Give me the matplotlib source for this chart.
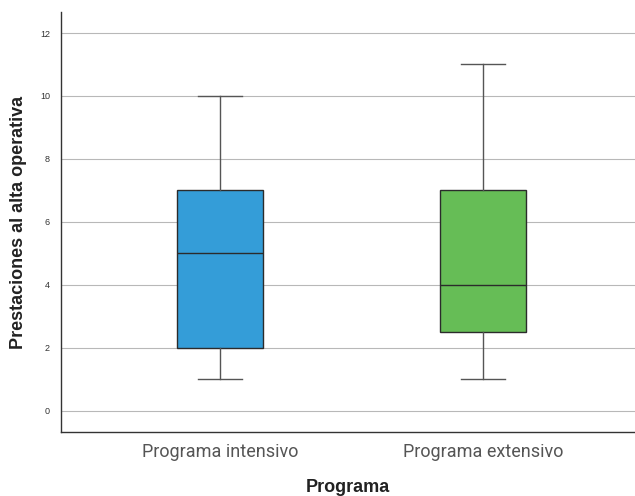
import matplotlib.pyplot as plt

categories = ["Programa intensivo", "Programa extensivo"]
whislo = [1, 1]
q1 = [2, 2.5]
medians = [5, 4]
q3 = [7, 7]
whishi = [10, 11]
colors = ["#349dd8", "#66bd56"]
yticks = [0, 2, 4, 6, 8, 10, 12]

fig = plt.figure(figsize=(6.35, 4.96), dpi=100)
ax = fig.add_axes([0.0961, 0.129, 0.9039, 0.847])

stats = []
for i in range(len(categories)):
    stats.append({"whislo": whislo[i], "q1": q1[i], "med": medians[i],
                  "q3": q3[i], "whishi": whishi[i], "fliers": []})

bp = ax.bxp(stats, positions=[1, 2], widths=0.33, patch_artist=True,
            showfliers=False, zorder=3,
            boxprops=dict(edgecolor="#2b2b2b", linewidth=1.0),
            medianprops=dict(color="#2b2b2b", linewidth=1.0),
            whiskerprops=dict(color="#555555", linewidth=1.0),
            capprops=dict(color="#555555", linewidth=1.0),
            capwidths=0.167)
for patch, c in zip(bp["boxes"], colors):
    patch.set_facecolor(c)

ax.set_xlim(0.395, 2.578)
ax.set_ylim(-0.67, 12.67)
ax.set_yticks(yticks)
ax.set_yticklabels([str(t) for t in yticks], fontsize=6.5, color="#333333",
                   family="Liberation Sans")
ax.set_xticks([1, 2])
ax.set_xticklabels(categories, fontsize=13, color="#555555", family="Roboto")
ax.tick_params(axis="both", length=0)
ax.tick_params(axis="y", pad=8)
ax.tick_params(axis="x", pad=8)
ax.yaxis.grid(True, color="#b8b8b8", linewidth=0.8, zorder=0)
ax.set_axisbelow(True)
for s in ["top", "right"]:
    ax.spines[s].set_visible(False)
for s in ["left", "bottom"]:
    ax.spines[s].set_color("#333333")
    ax.spines[s].set_linewidth(1.0)

ax.set_xlabel("Programa", fontsize=13, fontweight="bold", family="Liberation Sans",
              labelpad=13, color="#222222")
ax.set_ylabel("Prestaciones al alta operativa", fontsize=13, fontweight="bold",
              family="Liberation Sans", labelpad=9, color="#222222")

fig.savefig("out.png", dpi=100)
